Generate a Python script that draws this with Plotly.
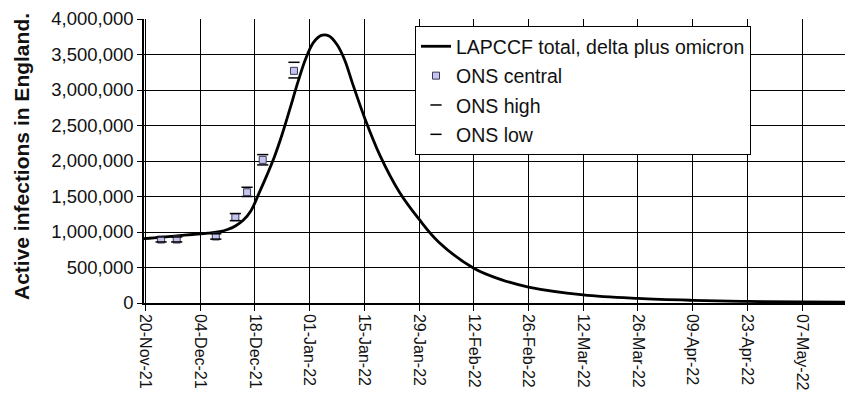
import pandas as pd
import plotly.graph_objects as go

# LAPCCF model curve (date, active infections)
model_dates = ["2021-11-19", "2021-11-24", "2021-11-28", "2021-12-02", "2021-12-06",
               "2021-12-09", "2021-12-11", "2021-12-13", "2021-12-15", "2021-12-17",
               "2021-12-19", "2021-12-21", "2021-12-23", "2021-12-25", "2021-12-27",
               "2021-12-29", "2021-12-31", "2022-01-02", "2022-01-04", "2022-01-06",
               "2022-01-08", "2022-01-10", "2022-01-12", "2022-01-15", "2022-01-19",
               "2022-01-24", "2022-01-29", "2022-02-03", "2022-02-12", "2022-02-19",
               "2022-02-26", "2022-03-12", "2022-03-26", "2022-04-09", "2022-04-23",
               "2022-05-07", "2022-05-19"]
model_values = [905000, 925000, 945000, 965000, 985000,
                1005000, 1035000, 1085000, 1165000, 1300000,
                1540000, 1790000, 2060000, 2380000, 2740000,
                3110000, 3440000, 3670000, 3770000, 3760000,
                3640000, 3420000, 3090000, 2620000, 2080000,
                1560000, 1180000, 860000, 490000, 330000,
                225000, 115000, 65000, 38000, 22000,
                14000, 10000]

# ONS survey estimates
ons_dates = ["2021-11-24", "2021-11-28", "2021-12-08", "2021-12-13",
             "2021-12-16", "2021-12-20", "2021-12-28"]
ons_central = [894000, 894000, 937000, 1208000, 1560000, 2016000, 3270000]
ons_high = [930000, 930000, 975000, 1260000, 1630000, 2090000, 3390000]
ons_low = [860000, 860000, 900000, 1160000, 1500000, 1945000, 3170000]

# axis ticks
y_tickvals = [0, 500000, 1000000, 1500000, 2000000, 2500000, 3000000, 3500000, 4000000]
x_tickvals = ["2021-11-20", "2021-12-04", "2021-12-18", "2022-01-01", "2022-01-15",
              "2022-01-29", "2022-02-12", "2022-02-26", "2022-03-12", "2022-03-26",
              "2022-04-09", "2022-04-23", "2022-05-07"]
x_ticktext = [pd.Timestamp(d).strftime("%d-%b-%y") for d in x_tickvals]
x_range = ["2021-11-19 15:00", "2022-05-18 00:00"]

FONT = "Arial, Liberation Sans, sans-serif"

fig = go.Figure()
fig.add_trace(go.Scatter(
    x=model_dates, y=model_values, mode="lines",
    line=dict(color="black", width=2.8, shape="spline", smoothing=1.0),
    name="LAPCCF total, delta plus omicron", legendgroup="a"))
fig.add_trace(go.Scatter(
    x=ons_dates, y=ons_central, mode="markers",
    marker=dict(symbol="square", size=7, color="#c4c4ee",
                line=dict(color="#3a3a5a", width=1)),
    name="ONS central", legendgroup="b"))
fig.add_trace(go.Scatter(
    x=ons_dates, y=ons_high, mode="markers",
    marker=dict(symbol="line-ew", size=8, line=dict(color="black", width=1.5)),
    name="ONS high", legendgroup="c"))
fig.add_trace(go.Scatter(
    x=ons_dates, y=ons_low, mode="markers",
    marker=dict(symbol="line-ew", size=8, line=dict(color="black", width=1.5)),
    name="ONS low", legendgroup="d"))

fig.update_layout(
    template="none",
    width=845, height=397,
    margin=dict(l=144, r=0, t=19, b=94),
    paper_bgcolor="white", plot_bgcolor="white",
    font=dict(family=FONT, color="#111111"),
    showlegend=True,
    legend=dict(x=(415 - 144) / 701, y=0.975, xanchor="left", yanchor="top",
                bgcolor="white", bordercolor="black", borderwidth=1,
                font=dict(size=19.5, family=FONT, color="#111111"),
                tracegroupgap=1, itemwidth=30),
    xaxis=dict(
        type="date",
        range=x_range,
        tickvals=x_tickvals, ticktext=x_ticktext, tickangle=90,
        tickfont=dict(size=16, family=FONT, color="#111111"),
        showgrid=True, gridcolor="black", gridwidth=1,
        showline=True, linecolor="black", linewidth=1.5,
        ticks="outside", ticklen=6, tickcolor="black",
        zeroline=False),
    yaxis=dict(
        range=[0, 4000000],
        tickvals=y_tickvals, tickformat=",", ticksuffix="  ",
        tickfont=dict(size=18.5, family=FONT, color="#111111"),
        showgrid=True, gridcolor="black", gridwidth=1,
        showline=True, linecolor="black", linewidth=1.5,
        ticks="outside", ticklen=5, tickcolor="black",
        zeroline=False),
    annotations=[dict(
        text="<b>Active infections in England.</b>",
        textangle=-90, xref="paper", yref="paper",
        x=(21 - 144) / 701, y=(303 - 157) / 284,
        xanchor="center", yanchor="middle", showarrow=False,
        font=dict(size=21, family=FONT, color="#111111"))],
)

fig.write_html("out.html")
